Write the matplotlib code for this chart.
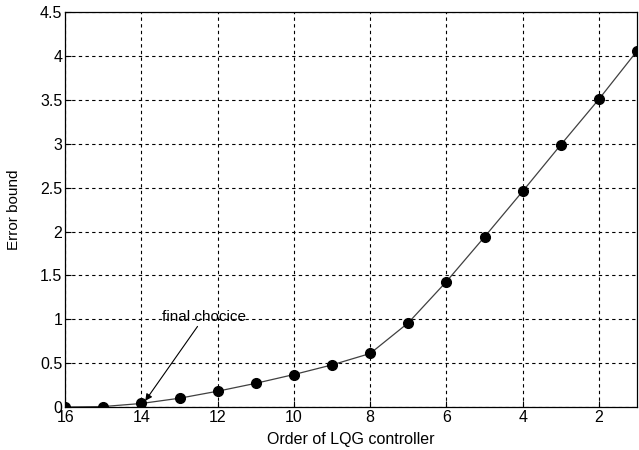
import matplotlib
matplotlib.use("Agg")
import matplotlib.pyplot as plt

# data
order = [16, 15, 14, 13, 12, 11, 10, 9, 8, 7, 6, 5, 4, 3, 2, 1]
err_bound = [0.0, 0.005, 0.04, 0.10, 0.18, 0.27, 0.37, 0.48, 0.61,
             0.96, 1.43, 1.94, 2.46, 2.99, 3.51, 4.06]
xticks = [16, 14, 12, 10, 8, 6, 4, 2]
yticks = [0, 0.5, 1, 1.5, 2, 2.5, 3, 3.5, 4, 4.5]
ytick_labels = ["0", "0.5", "1", "1.5", "2", "2.5", "3", "3.5", "4", "4.5"]

plt.rcParams["font.family"] = ["Liberation Sans", "DejaVu Sans"]

fig = plt.figure(figsize=(6.39, 4.5), dpi=100)
ax = fig.add_axes([0.102, 0.0956, 0.895, 0.877])

ax.plot(order, err_bound, color="#404040", linewidth=0.9,
        marker="o", markersize=7, markerfacecolor="black", markeredgecolor="black")

ax.set_xlim(16, 1)
ax.set_ylim(0, 4.5)
ax.set_xticks(xticks)
ax.set_yticks(yticks)
ax.set_yticklabels(ytick_labels)
ax.tick_params(direction="in", labelsize=11.5, length=4, width=0.8, pad=2)
ax.grid(True, color="black", linestyle=(0, (3, 3)), linewidth=0.8)
for s in ax.spines.values():
    s.set_linewidth(0.9)

ax.set_xlabel("Order of LQG controller", fontsize=11.5, labelpad=5)
ax.set_ylabel("Error bound", fontsize=11, labelpad=14)

ax.annotate("final chocice", xy=(13.9, 0.07), xytext=(13.45, 0.95),
            fontsize=11, ha="left", va="bottom",
            arrowprops=dict(arrowstyle="-|>", color="black", lw=0.8,
                            shrinkA=0, shrinkB=0, mutation_scale=10))

fig.savefig("out.png", dpi=100)
